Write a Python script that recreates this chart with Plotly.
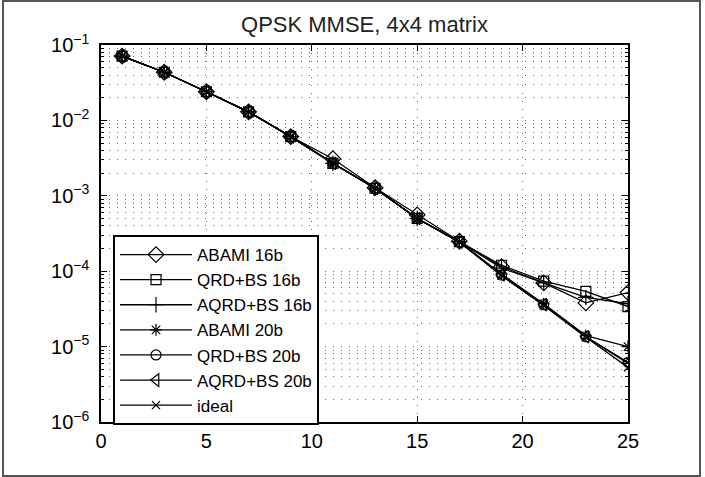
import plotly.graph_objects as go

snr = [1, 3, 5, 7, 9, 11, 13, 15, 17, 19, 21, 23, 25]

abami_16b = [0.0714, 0.0435, 0.0240, 0.0130, 0.0061, 0.0031, 0.00128, 0.00056, 0.000250, 1.15e-4, 7.0e-5, 3.8e-5, 5.2e-5]
qrdbs_16b = [0.0714, 0.0435, 0.0240, 0.0130, 0.0061, 0.0027, 0.00126, 0.00050, 0.000246, 1.20e-4, 7.4e-5, 5.4e-5, 3.4e-5]
aqrdbs_16b = [0.0714, 0.0435, 0.0240, 0.0130, 0.0061, 0.0027, 0.00126, 0.00050, 0.000246, 1.10e-4, 7.0e-5, 4.5e-5, 3.7e-5]
abami_20b = [0.0714, 0.0435, 0.0240, 0.0130, 0.0061, 0.0027, 0.00126, 0.00050, 0.000245, 9.2e-5, 3.7e-5, 1.40e-5, 1.0e-5]
qrdbs_20b = [0.0714, 0.0435, 0.0240, 0.0130, 0.0061, 0.0027, 0.00126, 0.00050, 0.000245, 8.9e-5, 3.6e-5, 1.35e-5, 6.2e-6]
aqrdbs_20b = [0.0714, 0.0435, 0.0240, 0.0130, 0.0061, 0.0027, 0.00126, 0.00050, 0.000245, 8.9e-5, 3.6e-5, 1.35e-5, 6.0e-6]
ideal = [0.0714, 0.0435, 0.0240, 0.0130, 0.0061, 0.0027, 0.00125, 0.00050, 0.000243, 8.7e-5, 3.5e-5, 1.33e-5, 5.3e-6]

series_names = ["ABAMI 16b", "QRD+BS 16b", "AQRD+BS 16b", "ABAMI 20b", "QRD+BS 20b", "AQRD+BS 20b", "ideal"]
series_values = [abami_16b, qrdbs_16b, aqrdbs_16b, abami_20b, qrdbs_20b, aqrdbs_20b, ideal]
symbols = ["diamond-open", "square-open", "cross-thin-open", "asterisk-open", "circle-open", "triangle-left-open", "x-thin-open"]
sizes = [12, 10, 11, 10, 10, 11, 8]

x_ticks = [0, 5, 10, 15, 20, 25]
y_ticks = [1e-6, 1e-5, 1e-4, 1e-3, 1e-2, 1e-1]
y_ticktext = ["10<sup>−6</sup>", "10<sup>−5</sup>", "10<sup>−4</sup>", "10<sup>−3</sup>", "10<sup>−2</sup>", "10<sup>−1</sup>"]
title_text = "QPSK MMSE, 4x4 matrix"

FONT = "Liberation Sans, Arial, Helvetica, sans-serif"

fig = go.Figure()
for name, vals, sym, sz in zip(series_names, series_values, symbols, sizes):
    fig.add_trace(go.Scatter(
        x=snr, y=vals, name=name, mode="lines+markers",
        line=dict(color="black", width=1.3),
        marker=dict(symbol=sym, size=sz, color="black", line=dict(color="black", width=1.2)),
    ))

GRID_COLOR = "#666666"
GRID_DASH = "1px,7px"
grid_style = dict(showgrid=True, gridcolor=GRID_COLOR, gridwidth=1, griddash=GRID_DASH)

fig.update_layout(
    width=705, height=477,
    margin=dict(l=101, r=77, t=45, b=55),
    paper_bgcolor="white", plot_bgcolor="white",
    font=dict(family=FONT, size=20, color="black"),
    title=dict(text=title_text, x=0.5, xref="paper", y=1 - 24 / 477, yref="container",
               xanchor="center", yanchor="middle", font=dict(size=22, family=FONT, color="#222")),
    showlegend=True,
    legend=dict(x=0.0228, y=0.496, xanchor="left", yanchor="top",
                bgcolor="white", bordercolor="black", borderwidth=2,
                font=dict(size=17, family=FONT, color="black"),
                itemwidth=72, tracegroupgap=0),
    xaxis=dict(range=[0, 25], tickvals=x_ticks, ticks="inside", ticklen=6, tickcolor="black",
               showline=True, linecolor="black", linewidth=1.5, mirror="allticks",
               zeroline=False, ticklabelstandoff=0, **grid_style),
    yaxis=dict(type="log", range=[-6, -1], tickvals=y_ticks, ticktext=y_ticktext,
               ticks="inside", ticklen=6, tickcolor="black",
               showline=True, linecolor="black", linewidth=1.5, mirror="allticks",
               zeroline=False, ticklabelstandoff=6,
               minor=dict(ticks="inside", ticklen=3, tickcolor="black", dtick="D1",
                          showgrid=True, gridcolor=GRID_COLOR, gridwidth=1, griddash=GRID_DASH),
               **grid_style),
)

# outer frame around the whole image
fig.add_shape(type="rect", xref="paper", yref="paper",
              x0=(3 - 101) / 527, x1=(700 - 101) / 527,
              y0=(422 - 476) / 377, y1=(422 - 1) / 377,
              line=dict(color="#555555", width=2), fillcolor="rgba(0,0,0,0)", layer="below")

fig.write_html("out.html")
